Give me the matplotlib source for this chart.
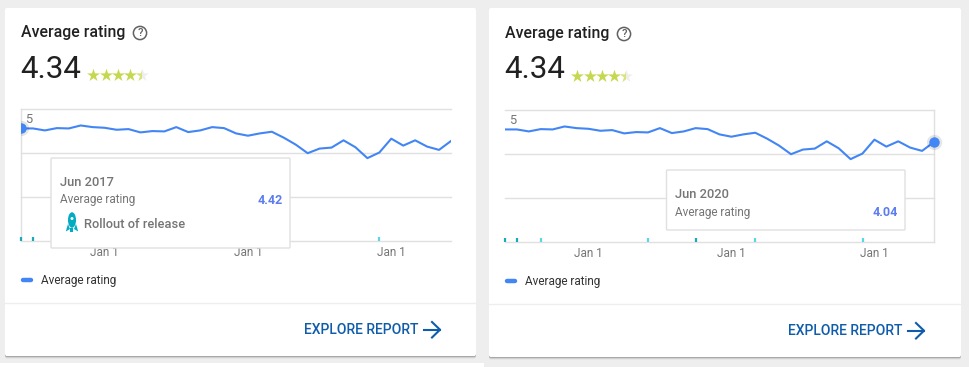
import matplotlib
matplotlib.use("Agg")
import matplotlib.pyplot as plt
from matplotlib.patches import FancyBboxPatch, Rectangle, Circle, Ellipse, Polygon

plt.rcParams["font.family"] = ["Roboto", "DejaVu Sans"]

# monthly average rating, Jun 2017 to Jun 2020
months = list(range(37))
ratings = [4.42, 4.42, 4.36, 4.43, 4.42, 4.51, 4.46, 4.44, 4.38, 4.40, 4.30, 4.34, 4.33,
           4.46, 4.31, 4.36, 4.46, 4.43, 4.27, 4.20, 4.27, 4.32, 4.14, 3.93, 3.67, 3.81,
           3.84, 4.06, 3.85, 3.52, 3.69, 4.11, 3.90, 4.06, 3.87, 3.77, 4.04]
jan_months = [7, 19, 31]
jan_labels = ["Jan 1", "Jan 1", "Jan 1"]
release_dark = [0, 1, 16]
release_light = [3, 12, 21, 30]
grid_values = [1, 7 / 3, 11 / 3, 5]

W, H = 969, 367
BLUE = "#4285f4"
GREY = "#757575"
LINE = "#e0e0e0"

fig = plt.figure(figsize=(W / 100, H / 100), dpi=100, facecolor="#eeeeee")

# background and overlay share pixel coordinates
bg = fig.add_axes([0, 0, 1, 1], zorder=0)
top = fig.add_axes([0, 0, 1, 1], zorder=2)
for a in (bg, top):
    a.set_xlim(0, W)
    a.set_ylim(H, 0)
    a.axis("off")
top.patch.set_alpha(0)

bg.add_patch(Rectangle((0, 363), 484, 4, fc="white", ec="none"))


def card(x0, x1, y0, y1, dx, dy):
    # soft shadow, then the white card
    for grow, alpha in ((2.0, 0.06), (1.2, 0.10), (0.5, 0.16)):
        bg.add_patch(FancyBboxPatch((x0, y0 + 1), x1 - x0, y1 - y0 + grow - 0.5,
                                    boxstyle="round,pad=0,rounding_size=2", fc="black",
                                    ec="none", alpha=alpha))
    bg.add_patch(FancyBboxPatch((x0, y0), x1 - x0, y1 - y0,
                                boxstyle="round,pad=0,rounding_size=2", fc="white", ec="none"))
    bg.plot([x0, x1], [303 + dy, 303 + dy], color="#eeeeee", lw=1)

    # header
    top.text(21 + dx, 32.5 + dy, "Average rating", fontsize=11.4, color="#212121", va="center",
             weight="medium")
    top.add_patch(Circle((140 + dx, 33 + dy), 6.6, fc="none", ec="#616161", lw=1.1))
    top.text(140 + dx, 33.3 + dy, "?", fontsize=8, color="#616161", ha="center", va="center",
             weight="medium")
    top.text(20.5 + dx, 69 + dy, "4.34", fontsize=22.5, color="#212121", va="center")

    # stars
    star_x = [93.5 + dx + 12.1 * i for i in range(5)]
    top.scatter(star_x[:4], [75 + dy] * 4, marker="*", s=95, color="#c6d84f", linewidths=0)
    top.scatter(star_x[4], 75 + dy, marker="*", s=95, color="#eeeeee", linewidths=0)
    half = top.scatter(star_x[4], 75 + dy, marker="*", s=95, color="#d8e47a", linewidths=0)
    half.set_clip_path(Rectangle((star_x[4] - 6, 60 + dy), 5, 30, transform=top.transData))

    # legend
    top.plot([23 + dx, 31 + dx], [280 + dy, 280 + dy], color=BLUE, lw=3.2, solid_capstyle="round")
    top.text(41 + dx, 280.5 + dy, "Average rating", fontsize=8.5, color="#333333", va="center")

    # link
    link = "#0f5cab"
    top.text(304 + dx, 330 + dy, "EXPLORE REPORT", fontsize=10, color=link, va="center",
             weight="medium")
    top.plot([424 + dx, 440 + dx], [329.7 + dy, 329.7 + dy], color=link, lw=1.5)
    top.plot([432 + dx, 440 + dx, 432 + dx], [322 + dy, 329.7 + dy, 337.5 + dy], color=link, lw=1.5)


def panel(x0, x1, y0, y1, hover, clip_marker):
    ax = fig.add_axes([x0 / W, 1 - y1 / H, (x1 - x0) / W, (y1 - y0) / H], zorder=1)
    ax.patch.set_alpha(0)
    ax.set_xlim(months[0], months[-1])
    ax.set_ylim(1, 5)
    for s in ax.spines.values():
        s.set_visible(False)
    ax.set_yticks(grid_values)
    ax.set_yticklabels([])
    ax.set_xticks(jan_months)
    ax.set_xticklabels(jan_labels, fontsize=8.5, color=GREY)
    for lab in ax.get_xticklabels():
        lab.set_x(lab.get_position()[0])
    ax.tick_params(length=0, pad=3.5)
    ax.grid(axis="y", color=LINE, lw=1, clip_on=False)
    ax.axvline(hover, color=LINE, lw=1, clip_on=False)
    ax.vlines(release_dark, 1, 1.12, color="#1aa9bc", lw=1.6, clip_on=False)
    ax.vlines(release_light, 1, 1.12, color="#5ad6e6", lw=1.6, clip_on=False)
    ax.plot(months, ratings, color=BLUE, lw=1.5, solid_joinstyle="round")
    ax.plot(hover, ratings[hover], "o", ms=11, color="black", alpha=0.10, mew=0, clip_on=clip_marker)
    ax.plot(hover, ratings[hover], "o", ms=7.5, color=BLUE, mew=0, clip_on=clip_marker)
    ax.annotate("5", (0, 5), xytext=(3, -3), textcoords="offset points", fontsize=9.3,
                color=GREY, va="top")


def tooltip(x0, x1, y0, y1, date, value, y_date, y_val):
    top.add_patch(FancyBboxPatch((x0, y0), x1 - x0, y1 - y0,
                                 boxstyle="round,pad=0,rounding_size=1", fc="white",
                                 ec=LINE, lw=1))
    top.text(x0 + 9, y_date, date, fontsize=9.3, color=GREY, va="center", weight="medium")
    top.text(x0 + 9, y_val, "Average rating", fontsize=8.5, color=GREY, va="center")
    top.text(x1 - 7.5, y_val, value, fontsize=9, color="#5c7cf0", va="center", ha="right", weight="bold")


card(5, 476, 8, 356, 0, 0)
card(489, 961, 8, 357, 484, 1)

panel(21, 451, 109.3, 241.3, 0, True)
panel(505, 934, 110.3, 242.3, 36, False)

tooltip(51, 290, 158, 248, "Jun 2017", "4.42", 183, 200)
tooltip(666.5, 905, 170, 230, "Jun 2020", "4.04", 195, 212.5)

# rocket icon of the release note
rocket = "#00acc1"
top.add_patch(Ellipse((72, 220), 8, 15.5, fc=rocket, ec="none"))
top.add_patch(Polygon([(68, 224), (65.8, 231.5), (70, 229)], fc=rocket, ec="none"))
top.add_patch(Polygon([(76, 224), (78.2, 231.5), (74, 229)], fc=rocket, ec="none"))
top.add_patch(Rectangle((70.5, 228), 3, 3.5, fc=rocket, ec="none"))
top.add_patch(Circle((72, 218.5), 1.5, fc="white", ec="none"))
top.text(84.5, 224, "Rollout of release", fontsize=9.3, color=GREY, va="center", weight="medium")

fig.savefig("out.png", dpi=100, facecolor=fig.get_facecolor())
